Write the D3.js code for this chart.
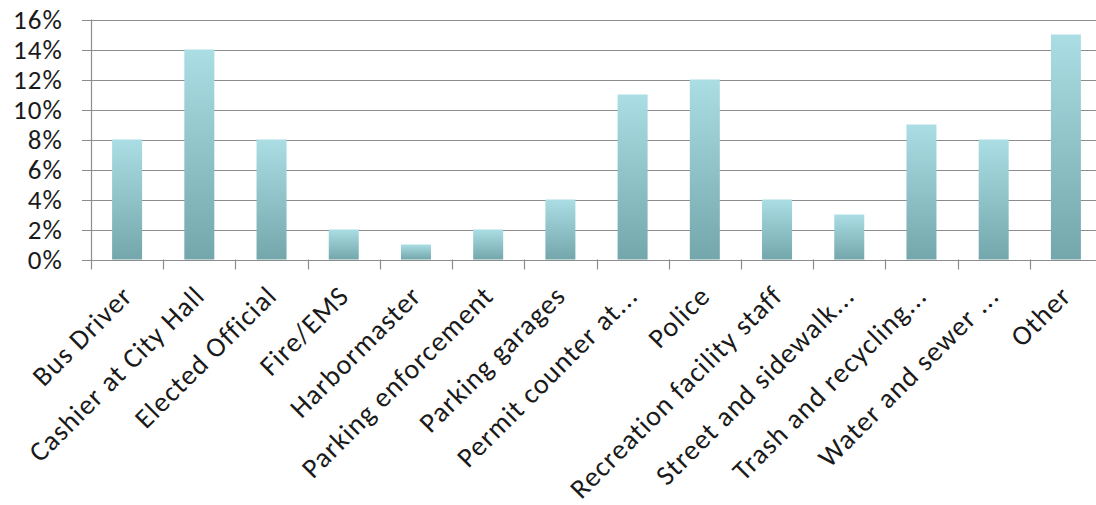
<!DOCTYPE html>
<html>
<head>
<meta charset="utf-8">
<script src="https://cdn.jsdelivr.net/npm/d3@7"></script>
<style>
  html, body { margin: 0; padding: 0; background: #fff; }
  svg { display: block; }
  text { font-family: Carlito, Calibri, Lato, "Open Sans", sans-serif; fill: #1a1a1a; }
</style>
</head>
<body>
<script>
const categories = [
  "Bus Driver", "Cashier at City Hall", "Elected Official", "Fire/EMS",
  "Harbormaster", "Parking enforcement", "Parking garages", "Permit counter at...",
  "Police", "Recreation facility staff", "Street and sidewalk...", "Trash and recycling...",
  "Water and sewer ...", "Other"
];
const values = [8, 14, 8, 2, 1, 2, 4, 11, 12, 4, 3, 9, 8, 15];
const yTicks = [0, 2, 4, 6, 8, 10, 12, 14, 16];

const W = 1096, H = 505;
const margin = { left: 91, right: -6, top: 19.5, bottom: 245.5 };

const svg = d3.select("body").append("svg").attr("width", W).attr("height", H);

const defs = svg.append("defs");
const grad = defs.append("linearGradient")
  .attr("id", "barFill").attr("x1", 0).attr("y1", 0).attr("x2", 0).attr("y2", 1);
grad.append("stop").attr("offset", "0%").attr("stop-color", "#abdee4");
grad.append("stop").attr("offset", "100%").attr("stop-color", "#74a7ac");

const x = d3.scaleBand().domain(categories)
  .range([margin.left, W - margin.right]).paddingInner(0).paddingOuter(0);
const y = d3.scaleLinear().domain([0, 16]).range([H - margin.bottom, margin.top]);

// horizontal gridlines, extending a little left of the axis
svg.append("g").selectAll("line").data(yTicks).join("line")
  .attr("x1", margin.left - 9).attr("x2", W - margin.right)
  .attr("y1", d => Math.round(y(d)) + 0.5).attr("y2", d => Math.round(y(d)) + 0.5)
  .attr("stroke", "#8c8c8c").attr("stroke-width", 1.2);

// y axis labels
svg.append("g").selectAll("text").data(yTicks).join("text")
  .attr("x", 63).attr("y", d => y(d)).attr("dy", "0.36em")
  .attr("text-anchor", "end").attr("font-size", 27).attr("letter-spacing", "1.1px")
  .text(d => d + "%");

// vertical axis line
svg.append("line")
  .attr("x1", margin.left + 0.5).attr("x2", margin.left + 0.5)
  .attr("y1", margin.top).attr("y2", y(0) + 10)
  .attr("stroke", "#8c8c8c").attr("stroke-width", 1.2);

// category boundary ticks below the baseline
const bounds = categories.map(c => x(c)).concat([x(categories[categories.length - 1]) + x.bandwidth()]);
svg.append("g").selectAll("line").data(bounds.slice(1)).join("line")
  .attr("x1", d => Math.round(d) + 0.5).attr("x2", d => Math.round(d) + 0.5)
  .attr("y1", y(0)).attr("y2", y(0) + 10)
  .attr("stroke", "#8c8c8c").attr("stroke-width", 1.2);

// bars
const barW = 30;
svg.append("g").selectAll("rect").data(values).join("rect")
  .attr("x", (d, i) => x(categories[i]) + x.bandwidth() / 2 - barW / 2)
  .attr("width", barW)
  .attr("y", d => y(d))
  .attr("height", d => y(0) - y(d))
  .attr("fill", "url(#barFill)");

// rotated category labels
svg.append("g").selectAll("text").data(categories).join("text")
  .attr("transform", d => `translate(${x(d) + x.bandwidth() / 2 + 7},${y(0) + 38}) rotate(-45)`)
  .attr("text-anchor", "end").attr("font-size", 28).attr("letter-spacing", "1.1px")
  .text(d => d);
</script>
</body>
</html>
